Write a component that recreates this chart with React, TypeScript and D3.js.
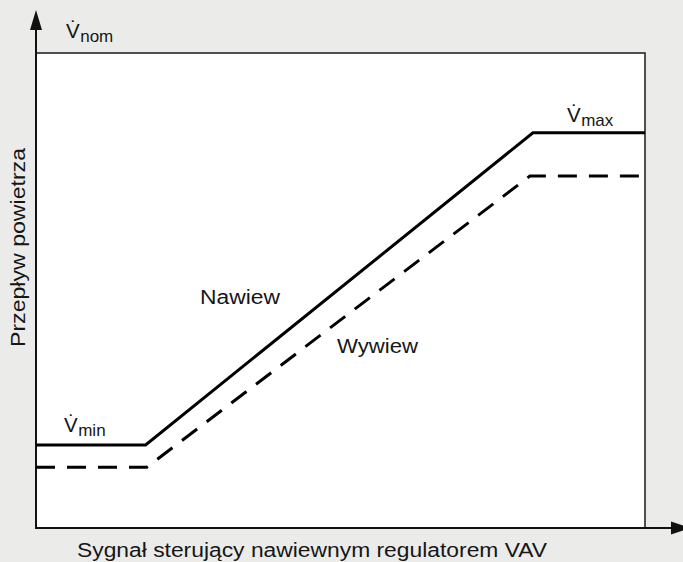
import { useEffect, useRef } from 'react';
import * as d3 from 'd3';

// control signal (% of range) and air flow (% of nominal)
const signalSupply = [0, 18, 81.6, 100];
const flowSupply = [17.5, 17.5, 83.2, 83.2];
const signalExhaust = [0, 18.2, 81.1, 100];
const flowExhaust = [12.8, 12.8, 74.1, 74.1];

const xTitle = 'Sygnał sterujący nawiewnym regulatorem VAV';
const yTitle = 'Przepływ powietrza';
const supplyLabel = 'Nawiew';
const exhaustLabel = 'Wywiew';

const App: React.FC = () => {
    const svgRef = useRef<SVGSVGElement>(null);

    useEffect(() => {
        const width = 683;
        const height = 562;
        const svg = d3.select(svgRef.current);
        svg.selectAll('*').remove();
        svg.attr('width', width).attr('height', height);

        const font = "'Liberation Sans', Arial, sans-serif";
        const ink = '#161616';

        svg.append('rect').attr('width', width).attr('height', height).attr('fill', '#ebecea');

        const x = d3.scaleLinear().domain([0, 100]).range([36, 645]);
        const y = d3.scaleLinear().domain([0, 100]).range([528, 53]);

        // plot area
        svg.append('rect')
            .attr('x', x(0)).attr('y', y(100))
            .attr('width', x(100) - x(0)).attr('height', y(0) - y(100))
            .attr('fill', '#fff');
        svg.append('path')
            .attr('d', `M${x(0)},${y(100)}H${x(100)}V${y(0)}`)
            .attr('fill', 'none').attr('stroke', '#1a1a1a').attr('stroke-width', 1.5);

        // axes with arrows
        svg.append('line')
            .attr('x1', x(0)).attr('x2', x(0)).attr('y1', y(0) + 1).attr('y2', 28)
            .attr('stroke', '#111').attr('stroke-width', 2);
        svg.append('path')
            .attr('d', `M${x(0)},10L${x(0) - 6},30L${x(0) + 6},30Z`).attr('fill', '#111');
        svg.append('line')
            .attr('x1', x(0) - 1).attr('x2', 673).attr('y1', y(0)).attr('y2', y(0))
            .attr('stroke', '#111').attr('stroke-width', 2);
        svg.append('path')
            .attr('d', `M691,${y(0)}L671,${y(0) - 6.5}L671,${y(0) + 6.5}Z`).attr('fill', '#111');

        const line = d3.line<[number, number]>().x((d) => x(d[0])).y((d) => y(d[1]));

        svg.append('path')
            .attr('d', line(signalSupply.map((s, i) => [s, flowSupply[i]]))!)
            .attr('fill', 'none').attr('stroke', '#000').attr('stroke-width', 3);
        svg.append('path')
            .attr('d', line(signalExhaust.map((s, i) => [s, flowExhaust[i]]))!)
            .attr('fill', 'none').attr('stroke', '#000').attr('stroke-width', 3)
            .attr('stroke-dasharray', '19 12');

        // V-dot labels
        const vLabel = (px: number, py: number, sub: string) => {
            const t = svg.append('text')
                .attr('x', px).attr('y', py)
                .attr('font-family', font).attr('font-size', 20.5).attr('fill', ink);
            t.append('tspan').text('V\u0307');
            t.append('tspan').attr('dy', 4.5).attr('dx', 0.5).attr('font-size', 17).text(sub);
        };
        vLabel(66, 37.5, 'nom');
        vLabel(567, 121.5, 'max');
        vLabel(64, 431.5, 'min');

        const label = (px: number, py: number, txt: string, len: number, size: number) =>
            svg.append('text')
                .attr('x', px).attr('y', py)
                .attr('font-family', font).attr('font-size', size).attr('fill', ink)
                .attr('textLength', len).attr('lengthAdjust', 'spacingAndGlyphs')
                .text(txt);

        label(200, 304, supplyLabel, 80, 20);
        label(337, 353, exhaustLabel, 81, 20);
        label(77, 557, xTitle, 470, 19.5);

        svg.append('text')
            .attr('transform', `translate(25,${(148 + 347) / 2}) rotate(-90)`)
            .attr('text-anchor', 'middle')
            .attr('font-family', font).attr('font-size', 19.5).attr('fill', ink)
            .attr('textLength', 199).attr('lengthAdjust', 'spacingAndGlyphs')
            .text(yTitle);
    }, []);

    return <svg ref={svgRef} style={{ position: 'absolute', left: 0, top: 0, display: 'block' }} />;
};

export default App;
